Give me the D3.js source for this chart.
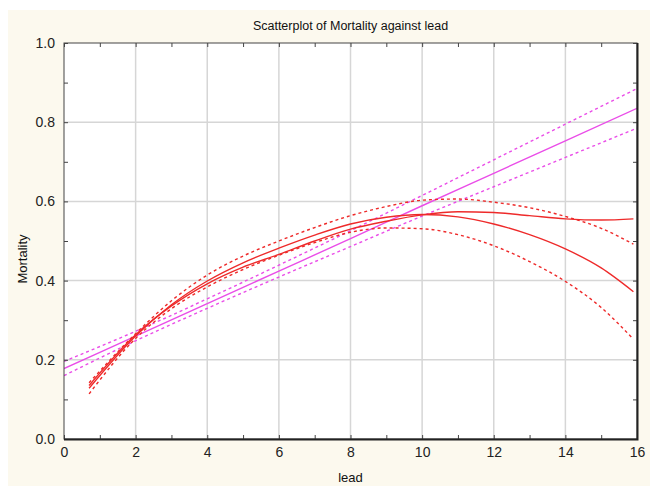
<!DOCTYPE html>
<html>
<head>
<meta charset="utf-8">
<script src="https://cdn.jsdelivr.net/npm/d3@7"></script>
<style>
  body { margin: 0; background: #fff; }
  svg { display: block; font-family: "Liberation Sans", Arial, sans-serif; }
</style>
</head>
<body>
<svg id="chart" width="650" height="486"></svg>
<script>
// axis ticks
const leadTicks = [0, 2, 4, 6, 8, 10, 12, 14, 16];
const mortalityTicks = [0, 0.2, 0.4, 0.6, 0.8, 1.0];

// linear fit with confidence band (magenta)
const linX     = [0, 2, 4, 6, 8, 10, 12, 14, 16];
const linFit   = [0.178, 0.260, 0.342, 0.424, 0.506, 0.589, 0.671, 0.753, 0.835];
const linUpper = [0.196, 0.272, 0.354, 0.439, 0.526, 0.615, 0.705, 0.795, 0.885];
const linLower = [0.160, 0.248, 0.330, 0.409, 0.486, 0.563, 0.637, 0.711, 0.785];

// polynomial fits (red)
const polyX     = [0.7, 2, 3, 4, 5, 6, 7, 8, 9, 10, 11, 12, 13, 14, 15, 15.9];
const polyFit   = [0.128, 0.260, 0.339, 0.399, 0.445, 0.482, 0.515, 0.543, 0.560, 0.567, 0.561, 0.543, 0.516, 0.480, 0.432, 0.372];
const polyUpper = [0.142, 0.266, 0.349, 0.414, 0.462, 0.500, 0.534, 0.564, 0.587, 0.603, 0.606, 0.598, 0.584, 0.562, 0.532, 0.492];
const polyLower = [0.114, 0.254, 0.329, 0.384, 0.428, 0.464, 0.496, 0.522, 0.533, 0.531, 0.516, 0.488, 0.448, 0.398, 0.332, 0.252];
const cubicFit  = [0.135, 0.263, 0.336, 0.392, 0.434, 0.466, 0.500, 0.530, 0.550, 0.566, 0.574, 0.572, 0.564, 0.556, 0.553, 0.556];

const svg = d3.select("#chart");
const plot = {left: 64, right: 637, top: 43, bottom: 439};

// panel background
svg.append("rect")
    .attr("x", 8).attr("y", 10)
    .attr("width", 642).attr("height", 476)
    .attr("fill", "#fcf9ee");

svg.append("rect")
    .attr("x", plot.left).attr("y", plot.top)
    .attr("width", plot.right - plot.left).attr("height", plot.bottom - plot.top)
    .attr("fill", "#fff");

const x = d3.scaleLinear().domain([0, 16]).range([plot.left, plot.right]);
const y = d3.scaleLinear().domain([0, 1]).range([plot.bottom, plot.top]);

// grid
svg.append("g").selectAll("line")
    .data(leadTicks.slice(1, -1))
    .join("line")
    .attr("x1", d => x(d)).attr("x2", d => x(d))
    .attr("y1", plot.top).attr("y2", plot.bottom)
    .attr("stroke", "#d6d6d6").attr("stroke-width", 1.5);

svg.append("g").selectAll("line")
    .data(mortalityTicks.slice(1, -1))
    .join("line")
    .attr("x1", plot.left).attr("x2", plot.right)
    .attr("y1", d => y(d)).attr("y2", d => y(d))
    .attr("stroke", "#d6d6d6").attr("stroke-width", 1.5);

// curves
svg.append("clipPath").attr("id", "clip")
  .append("rect")
    .attr("x", plot.left).attr("y", plot.top)
    .attr("width", plot.right - plot.left).attr("height", plot.bottom - plot.top);

const lines = svg.append("g").attr("clip-path", "url(#clip)");

function drawCurve(xs, ys, color, dashed) {
    const line = d3.line()
        .x(d => x(d[0]))
        .y(d => y(d[1]))
        .curve(d3.curveMonotoneX);
    lines.append("path")
        .datum(xs.map((v, i) => [v, ys[i]]))
        .attr("d", line)
        .attr("fill", "none")
        .attr("stroke", color)
        .attr("stroke-width", 1.4)
        .attr("stroke-dasharray", dashed ? "3,3" : null);
}

const pink = "#ea4de8";
const red = "#ee2a2a";

drawCurve(linX, linUpper, pink, true);
drawCurve(linX, linLower, pink, true);
drawCurve(linX, linFit, pink, false);

drawCurve(polyX, polyUpper, red, true);
drawCurve(polyX, polyLower, red, true);
drawCurve(polyX, polyFit, red, false);
drawCurve(polyX, cubicFit, red, false);

// inward ticks on all four sides
const minorX = d3.range(0, 17, 1);
const minorY = d3.range(0, 1.0001, 0.1);

svg.append("g")
    .attr("transform", `translate(0,${plot.bottom})`)
    .call(d3.axisBottom(x).tickValues(minorX).tickSize(-4).tickFormat(""))
    .call(g => g.select(".domain").remove());
svg.append("g")
    .attr("transform", `translate(0,${plot.top})`)
    .call(d3.axisTop(x).tickValues(minorX).tickSize(-4).tickFormat(""))
    .call(g => g.select(".domain").remove());
svg.append("g")
    .attr("transform", `translate(${plot.left},0)`)
    .call(d3.axisLeft(y).tickValues(minorY).tickSize(-4).tickFormat(""))
    .call(g => g.select(".domain").remove());
svg.append("g")
    .attr("transform", `translate(${plot.right},0)`)
    .call(d3.axisRight(y).tickValues(minorY).tickSize(-4).tickFormat(""))
    .call(g => g.select(".domain").remove());

svg.selectAll(".tick line").attr("stroke", "#444");

// labels
const xAxis = svg.append("g")
    .attr("transform", `translate(0,${plot.bottom})`)
    .call(d3.axisBottom(x).tickValues(leadTicks).tickSize(0).tickPadding(8).tickFormat(d3.format("d")));
xAxis.select(".domain").remove();

const yAxis = svg.append("g")
    .attr("transform", `translate(${plot.left},0)`)
    .call(d3.axisLeft(y).tickValues(mortalityTicks).tickSize(0).tickPadding(9).tickFormat(d3.format(".1f")));
yAxis.select(".domain").remove();

svg.selectAll(".tick text")
    .attr("font-family", "'Liberation Sans', Arial, sans-serif")
    .attr("font-size", 14)
    .attr("fill", "#222");

// frame
svg.append("rect")
    .attr("x", plot.left).attr("y", plot.top)
    .attr("width", plot.right - plot.left).attr("height", plot.bottom - plot.top)
    .attr("fill", "none").attr("stroke", "#444").attr("stroke-width", 1);
svg.append("path")
    .attr("d", `M${plot.left},${plot.bottom + 0.5}H${plot.right + 0.5}V${plot.top}`)
    .attr("fill", "none").attr("stroke", "#222").attr("stroke-width", 2);

// titles
svg.append("text")
    .attr("x", (plot.left + plot.right) / 2).attr("y", 30)
    .attr("text-anchor", "middle")
    .attr("font-size", 12.5).attr("fill", "#111")
    .text("Scatterplot of Mortality against lead");

svg.append("text")
    .attr("x", (plot.left + plot.right) / 2).attr("y", 482)
    .attr("text-anchor", "middle")
    .attr("font-size", 13).attr("fill", "#111")
    .text("lead");

svg.append("text")
    .attr("transform", `translate(27,${(plot.top + plot.bottom) / 2 + 18}) rotate(-90)`)
    .attr("text-anchor", "middle")
    .attr("font-size", 13).attr("fill", "#111")
    .text("Mortality");
</script>
</body>
</html>
